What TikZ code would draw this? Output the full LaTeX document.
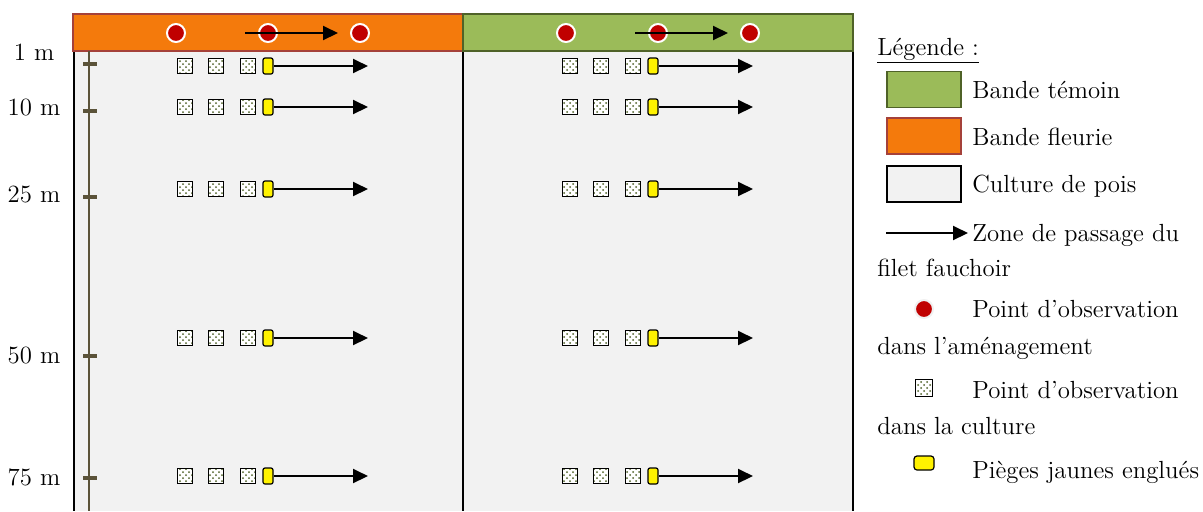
\documentclass[tikz,border=0pt]{standalone}
\usepackage{fontspec}
\usetikzlibrary{patterns,arrows.meta}

\definecolor{orangeband}{HTML}{F47A0C}
\definecolor{orangeedge}{HTML}{A5413A}
\definecolor{greenband}{HTML}{9BBB59}
\definecolor{greenedge}{HTML}{4F6228}
\definecolor{peafield}{HTML}{F2F2F2}
\definecolor{rulebrown}{HTML}{5B5339}
\definecolor{obsred}{HTML}{C00000}
\definecolor{dotgreen}{HTML}{4F6228}

\begin{document}
\begin{tikzpicture}[x=0.5pt,y=-0.5pt]
  \tikzstyle{every node}+=[inner sep=0pt, font=\fontsize{12.4}{15}\selectfont]
  \tikzstyle{obspoint}=[circle, fill=obsred, draw=white, line width=1pt, minimum size=9pt]
  \tikzstyle{obsbox}=[rectangle, draw=black, line width=0.8pt, minimum size=7.5pt, preaction={fill=white}, pattern=crosshatch dots, pattern color=dotgreen]
  \tikzstyle{trap}=[rectangle, rounded corners=1pt, fill=yellow, draw=black, line width=0.6pt, minimum width=5pt, minimum height=8pt]
  \tikzstyle{passage}=[line width=1pt, -{Triangle[length=7.5pt,width=7pt]}]
  \tikzstyle{keybox}=[rectangle, line width=0.8pt, minimum width=37pt, minimum height=18pt]
  \tikzstyle{keytext}=[anchor=base west]
  \useasboundingbox (0,0) rectangle (1203,511);

  % culture de pois
  \fill[peafield] (73,51) rectangle (853,511);
  \draw[line width=0.8pt] (74,51) -- (74,511);
  \draw[line width=0.8pt] (463,51) -- (463,511);
  \draw[line width=0.8pt] (853,51) -- (853,511);
  % bandes
  \draw[fill=orangeband, draw=orangeedge, line width=0.8pt] (73,14) rectangle (463,51);
  \draw[fill=greenband, draw=greenedge, line width=0.8pt] (463,14) rectangle (853,51);

  % echelle des distances
  \draw[rulebrown, line width=1pt] (89,51) -- (89,511);
  \foreach \dist/\yy/\ly in {1/64/60, 10/111/115, 25/197/202, 50/356/363, 75/478/485} {
    \draw[rulebrown, line width=2pt] (83,\yy) -- (97,\yy);
    \node[anchor=base] (lbl\dist) at (34,\ly) {\dist~m};
  }

  % points dans la culture
  \foreach \col/\dx in {L/0, R/385} {
    \foreach \row/\yy in {a/66, b/107, c/189, d/338, e/476} {
      \node[obsbox] (sq\col\row1) at ({185+\dx},\yy) {};
      \node[obsbox] (sq\col\row2) at ({216+\dx},\yy) {};
      \node[obsbox] (sq\col\row3) at ({248+\dx},\yy) {};
      \node[trap] (trap\col\row) at ({268+\dx},\yy) {};
      \coordinate (end\col\row) at ({368+\dx},\yy);
      \draw[passage] (trap\col\row.east) -- (end\col\row);
    }
  }

  % points dans l'amenagement
  \foreach \col/\dx in {L/0, R/390} {
    \foreach \i/\xx in {1/176, 2/268, 3/360}
      \node[obspoint] (pt\col\i) at ({\xx+\dx},33) {};
    \coordinate (swS\col) at ({245+\dx},33);
    \coordinate (swE\col) at ({338+\dx},33);
    \draw[passage] (swS\col) -- (swE\col);
  }

  % legende
  \node[keytext] (legtitle) at (877,55) {\underline{Légende :}};
  \node[keybox, fill=greenband, draw=greenedge] (keyT) at (924,89.5) {};
  \node[keytext] (txtT) at (972,98) {Bande témoin};
  \node[keybox, fill=orangeband, draw=orangeedge] (keyF) at (924,136) {};
  \node[keytext] (txtF) at (972,145) {Bande fleurie};
  \node[keybox, fill=peafield, draw=black] (keyC) at (924,184) {};
  \node[keytext] (txtC) at (972,192) {Culture de pois};
  \coordinate (keyAs) at (886,233);
  \coordinate (keyAe) at (968,233);
  \draw[passage] (keyAs) -- (keyAe);
  \node[keytext] (txtA) at (972,241) {Zone de passage du};
  \node[keytext] (txtA2) at (877,276) {filet fauchoir};
  \node[obspoint, draw=gray!12] (keyP) at (924,309) {};
  \node[keytext] (txtP) at (972,317) {Point d'observation};
  \node[keytext] (txtP2) at (877,354) {dans l'aménagement};
  \node[obsbox, minimum size=8.5pt] (keyS) at (924,388) {};
  \node[keytext] (txtS) at (972,398) {Point d'observation};
  \node[keytext] (txtS2) at (877,434) {dans la culture};
  \node[trap, minimum width=10pt, minimum height=7pt, rounded corners=1.5pt] (keyJ) at (924,463) {};
  \node[keytext] (txtJ) at (972,478) {Pièges jaunes englués};
\end{tikzpicture}
\end{document}
